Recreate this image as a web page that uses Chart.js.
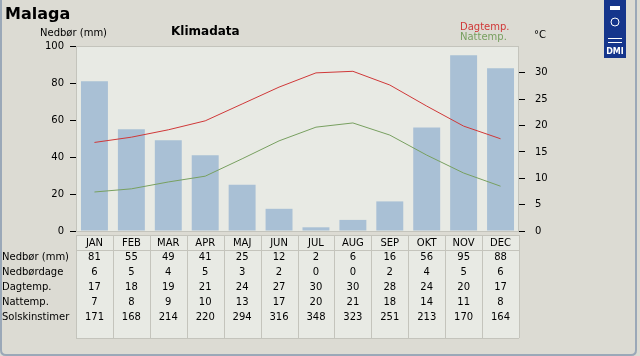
<!DOCTYPE html>
<html><head><meta charset="utf-8">
<script src="https://cdn.jsdelivr.net/npm/chart.js@4"></script>
<style>html,body{margin:0;padding:0;background:#dcdbd3;}canvas{display:block;}</style>
</head><body>
<canvas id="c" width="640" height="356" style="width:640px;height:356px"></canvas>
<script>
const months = ['JAN','FEB','MAR','APR','MAJ','JUN','JUL','AUG','SEP','OKT','NOV','DEC'];
const precip = [81,55,49,41,25,12,2,6,16,56,95,88];
const rainDays = [6,5,4,5,3,2,0,0,2,4,5,6];
const dayTemp = [17,18,19,21,24,27,30,30,28,24,20,17];
const nightTemp = [7,8,9,10,13,17,20,21,18,14,11,8];
const sunHours = [171,168,214,220,294,316,348,323,251,213,170,164];
const dayLine = [16.8,17.8,19.2,20.9,24.1,27.3,30.0,30.3,27.7,23.7,19.9,17.5];
const nightLine = [7.4,8.0,9.3,10.4,13.7,17.1,19.7,20.5,18.2,14.4,11.0,8.5];
const precipTicks = [0,20,40,60,80,100];
const tempTicks = [0,5,10,15,20,25,30];
const rowLabels = ['Nedbør (mm)','Nedbørdage','Dagtemp.','Nattemp.','Solskinstimer'];
const rows = [precip, rainDays, dayTemp, nightTemp, sunHours];

const FONT = '"DejaVu Sans", sans-serif';

const deco = {
  id:'deco',
  beforeDraw(chart){
    const ctx = chart.ctx, a = chart.chartArea;
    ctx.save();
    ctx.fillStyle = '#dcdbd3';
    ctx.fillRect(0,0,640,356);
    // frame
    ctx.strokeStyle = '#9aa8b8';
    ctx.lineWidth = 2;
    ctx.beginPath();
    ctx.moveTo(1,0); ctx.lineTo(1,350); ctx.quadraticCurveTo(1,355,6,355);
    ctx.lineTo(631,355); ctx.quadraticCurveTo(636,355,636,350); ctx.lineTo(636,0);
    ctx.stroke();
    // plot area
    ctx.fillStyle = '#e8eae4';
    ctx.fillRect(a.left, a.top, a.right-a.left, a.bottom-a.top);
    ctx.strokeStyle = '#c4c4bc'; ctx.lineWidth = 1;
    ctx.strokeRect(a.left+0.5, a.top+0.5, a.right-a.left-1, a.bottom-a.top);
    // table
    const x = chart.scales.x;
    const tTop = 235, tHead = 250, tBot = 338;
    ctx.fillStyle = '#e8eae4';
    ctx.fillRect(a.left, tTop, a.right-a.left, tBot-tTop);
    ctx.strokeStyle = '#c4c4bc';
    ctx.beginPath();
    ctx.moveTo(a.left, tTop+0.5); ctx.lineTo(a.right, tTop+0.5);
    ctx.moveTo(a.left, tHead+0.5); ctx.lineTo(a.right, tHead+0.5);
    ctx.moveTo(a.left, tBot+0.5); ctx.lineTo(a.right, tBot+0.5);
    const w = (a.right-a.left)/months.length;
    for(let i=0;i<=months.length;i++){
      const xx = Math.round(a.left + i*w)+0.5;
      ctx.moveTo(xx, tTop); ctx.lineTo(xx, tBot);
    }
    ctx.stroke();
    ctx.fillStyle = '#000';
    ctx.font = '10px '+FONT;
    ctx.textBaseline = 'middle';
    ctx.textAlign = 'center';
    months.forEach((m,i)=>{ ctx.fillText(m, x.getPixelForValue(i), 243); });
    rows.forEach((r,ri)=>{
      const yy = 257 + ri*15;
      ctx.textAlign = 'left';
      ctx.fillText(rowLabels[ri], 2, yy);
      ctx.textAlign = 'center';
      r.forEach((v,i)=>ctx.fillText(String(v), x.getPixelForValue(i), yy));
    });
    // titles
    ctx.textBaseline = 'alphabetic';
    ctx.textAlign = 'left';
    ctx.font = 'bold 16px '+FONT;
    ctx.fillText('Malaga', 5, 19);
    ctx.font = '10px '+FONT;
    ctx.fillText('Nedbør (mm)', 40, 36);
    ctx.font = 'bold 12px '+FONT;
    ctx.fillText('Klimadata', 171, 35);
    ctx.font = '10px '+FONT;
    ctx.fillStyle = '#d03838';
    ctx.fillText('Dagtemp.', 460, 30);
    ctx.fillStyle = '#78a060';
    ctx.fillText('Nattemp.', 460, 40);
    ctx.fillStyle = '#000';
    ctx.fillText('°C', 534, 38);
    // DMI logo
    ctx.fillStyle = '#15358c';
    ctx.fillRect(604, 0, 22, 58);
    ctx.fillStyle = '#fff';
    ctx.strokeStyle = '#fff';
    ctx.fillRect(610, 6, 10, 4);
    ctx.beginPath(); ctx.arc(615,22,4,0,Math.PI*2); ctx.stroke();
    ctx.fillRect(608, 38, 14, 1);
    ctx.fillRect(608, 42, 14, 1);
    ctx.font = 'bold 8px '+FONT;
    ctx.textAlign = 'center';
    ctx.fillText('DMI', 615, 54);
    ctx.restore();
  }
};

new Chart(document.getElementById('c'), {
  type:'bar',
  data:{
    labels: months,
    datasets:[
      {type:'line', data: dayLine, yAxisID:'y1', borderColor:'#d03838', borderWidth:1, pointRadius:0, tension:0, fill:false, order:1},
      {type:'line', data: nightLine, yAxisID:'y1', borderColor:'#78a060', borderWidth:1, pointRadius:0, tension:0, fill:false, order:1},
      {type:'bar', data: precip, yAxisID:'y', backgroundColor:'#a9c0d5', barPercentage:0.73, categoryPercentage:1, order:2}
    ]
  },
  options:{
    responsive:false, animation:false, devicePixelRatio:1,
    layout:{padding:{top:46, bottom:125, left:0, right:0}},
    plugins:{legend:{display:false}, tooltip:{enabled:false}},
    scales:{
      x:{display:false},
      y:{
        position:'left', min:0, max:100,
        afterBuildTicks(s){ s.ticks = precipTicks.map(v=>({value:v})); },
        afterFit(s){ s.width = 76; },
        grid:{drawOnChartArea:false, tickLength:6, color:'#000', lineWidth:1},
        border:{display:false},
        ticks:{color:'#000', padding:6, font:{family:'DejaVu Sans', size:10}}
      },
      y1:{
        position:'right', min:0, max:35.1,
        afterBuildTicks(s){ s.ticks = tempTicks.map(v=>({value:v})); },
        afterFit(s){ s.width = 121; },
        grid:{drawOnChartArea:false, tickLength:6, color:'#000', lineWidth:1},
        border:{display:false},
        ticks:{color:'#000', padding:10, font:{family:'DejaVu Sans', size:10}}
      }
    }
  },
  plugins:[deco]
});
</script>
</body></html>
